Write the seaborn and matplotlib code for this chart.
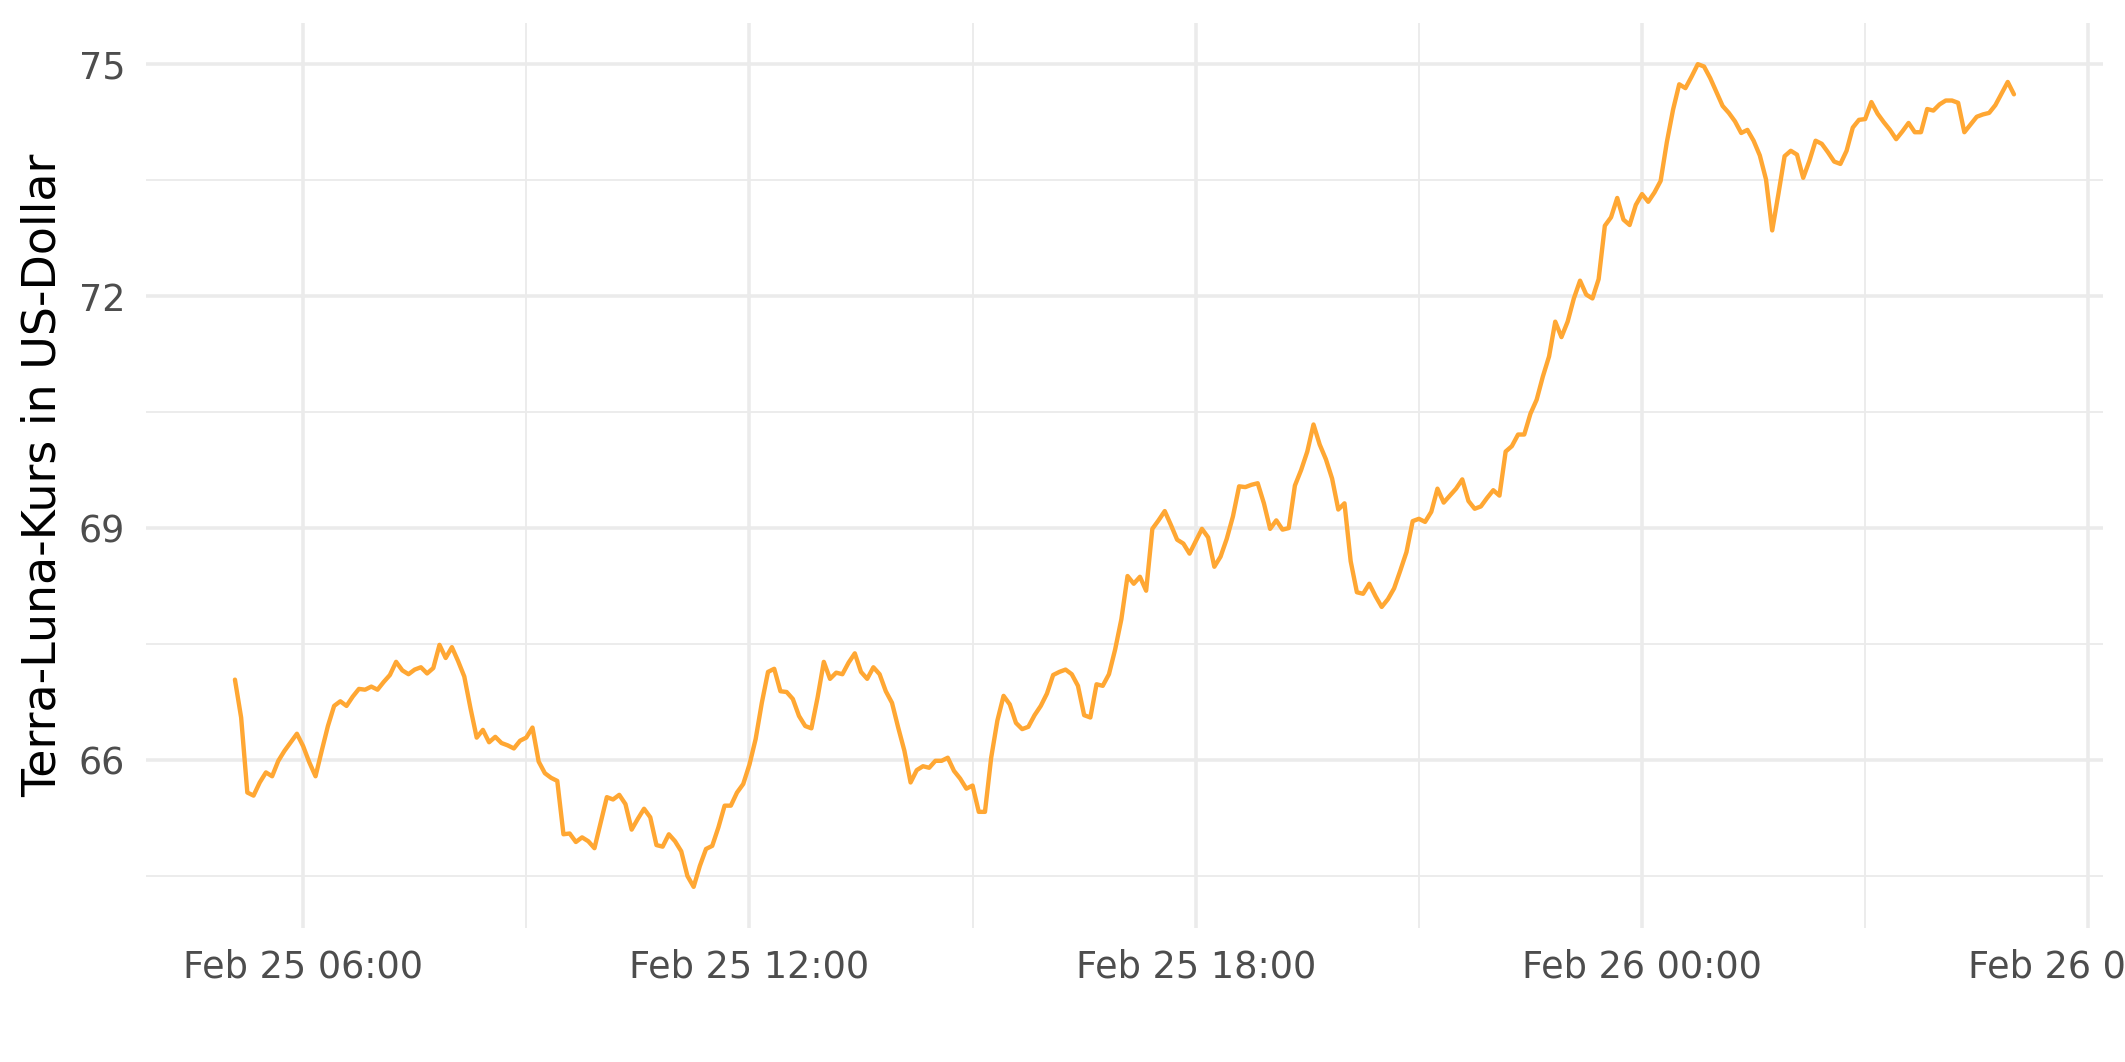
import pandas as pd
import seaborn as sns
import matplotlib.pyplot as plt
import matplotlib.dates as mdates

# Terra (LUNA) price in USD, 5-minute steps from Feb 25 05:05 to Feb 26 05:00
# one row per hour, split into four 6-hour blocks
morning = [
    67.04, 66.55, 65.58, 65.54, 65.71, 65.84, 65.79, 65.99, 66.12, 66.23, 66.34, 66.18,
    65.97, 65.79, 66.12, 66.44, 66.70, 66.76, 66.70, 66.82, 66.92, 66.91, 66.95, 66.91,
    67.01, 67.10, 67.27, 67.16, 67.11, 67.17, 67.20, 67.12, 67.19, 67.49, 67.32, 67.46,
    67.28, 67.08, 66.67, 66.29, 66.39, 66.23, 66.30, 66.22, 66.19, 66.15, 66.25, 66.29,
    66.42, 65.98, 65.83, 65.77, 65.73, 65.04, 65.05, 64.94, 65.00, 64.95, 64.86, 65.19,
    65.52, 65.49, 65.55, 65.43, 65.10, 65.24, 65.37, 65.26, 64.90, 64.88, 65.04, 64.95,
]
midday = [
    64.82, 64.50, 64.36, 64.63, 64.85, 64.89, 65.13, 65.41, 65.41, 65.58, 65.69, 65.94,
    66.27, 66.74, 67.14, 67.18, 66.89, 66.88, 66.79, 66.57, 66.44, 66.41, 66.81, 67.27,
    67.05, 67.13, 67.11, 67.26, 67.38, 67.14, 67.05, 67.20, 67.11, 66.89, 66.74, 66.42,
    66.12, 65.71, 65.87, 65.92, 65.90, 65.99, 65.99, 66.03, 65.86, 65.76, 65.63, 65.67,
    65.33, 65.33, 66.03, 66.51, 66.83, 66.72, 66.48, 66.40, 66.43, 66.58, 66.70, 66.86,
    67.10, 67.14, 67.17, 67.11, 66.96, 66.58, 66.55, 66.98, 66.96, 67.11, 67.43, 67.82,
]
evening = [
    68.38, 68.28, 68.37, 68.19, 68.99, 69.10, 69.22, 69.04, 68.85, 68.80, 68.67, 68.83,
    68.99, 68.88, 68.50, 68.63, 68.86, 69.15, 69.54, 69.53, 69.56, 69.58, 69.32, 68.99,
    69.10, 68.98, 69.00, 69.55, 69.75, 69.99, 70.34, 70.08, 69.89, 69.64, 69.24, 69.32,
    68.57, 68.17, 68.15, 68.28, 68.12, 67.98, 68.08, 68.22, 68.45, 68.69, 69.09, 69.12,
    69.08, 69.21, 69.51, 69.33, 69.42, 69.51, 69.63, 69.35, 69.25, 69.28, 69.39, 69.49,
    69.42, 69.99, 70.06, 70.21, 70.21, 70.48, 70.66, 70.96, 71.22, 71.67, 71.47, 71.67,
]
night = [
    71.97, 72.20, 72.02, 71.97, 72.22, 72.91, 73.02, 73.27, 72.99, 72.92, 73.18, 73.32,
    73.22, 73.34, 73.49, 73.99, 74.41, 74.74, 74.69, 74.84, 75.00, 74.97, 74.82, 74.64,
    74.46, 74.37, 74.26, 74.11, 74.15, 74.01, 73.82, 73.51, 72.85, 73.32, 73.81, 73.88,
    73.83, 73.53, 73.75, 74.01, 73.97, 73.86, 73.74, 73.71, 73.88, 74.18, 74.28, 74.29,
    74.51, 74.36, 74.25, 74.15, 74.03, 74.13, 74.24, 74.12, 74.12, 74.42, 74.40, 74.48,
    74.53, 74.53, 74.50, 74.12, 74.22, 74.32, 74.35, 74.37, 74.47, 74.62, 74.77, 74.61,
]

prices = morning + midday + evening + night
df = pd.DataFrame({
    "time": pd.date_range("2022-02-25 05:05", periods=len(prices), freq="5min"),
    "price": prices,
})

sns.set_theme(style="whitegrid")
plt.rcParams["font.family"] = ["DejaVu Sans"]

fig = plt.figure(figsize=(2125 / 300, 1062 / 300), dpi=300)
ax = fig.add_axes([0.0687, 0.1262, 0.9209, 0.8521])

sns.lineplot(data=df, x="time", y="price", color="#FFA733", linewidth=1.05, ax=ax)

ax.xaxis.set_major_locator(mdates.HourLocator(byhour=[0, 6, 12, 18]))
ax.xaxis.set_minor_locator(mdates.HourLocator(byhour=[3, 9, 15, 21]))
ax.xaxis.set_major_formatter(mdates.DateFormatter("%b %d %H:%M"))
ax.set_yticks([66, 69, 72, 75])
ax.set_yticks([64.5, 67.5, 70.5, 73.5], minor=True)
ax.margins(x=0.05, y=0.05)

ax.set_facecolor("white")
ax.grid(which="major", color="#EBEBEB", linewidth=0.85)
ax.grid(which="minor", color="#EBEBEB", linewidth=0.45)
for s in ax.spines.values():
    s.set_visible(False)
ax.tick_params(which="both", length=0, labelsize=8.8, labelcolor="#4D4D4D", pad=5)

ax.set_xlabel("")
ax.set_ylabel("Terra-Luna-Kurs in US-Dollar", fontsize=11, color="black", labelpad=3)

fig.savefig("out.png", dpi=300)
